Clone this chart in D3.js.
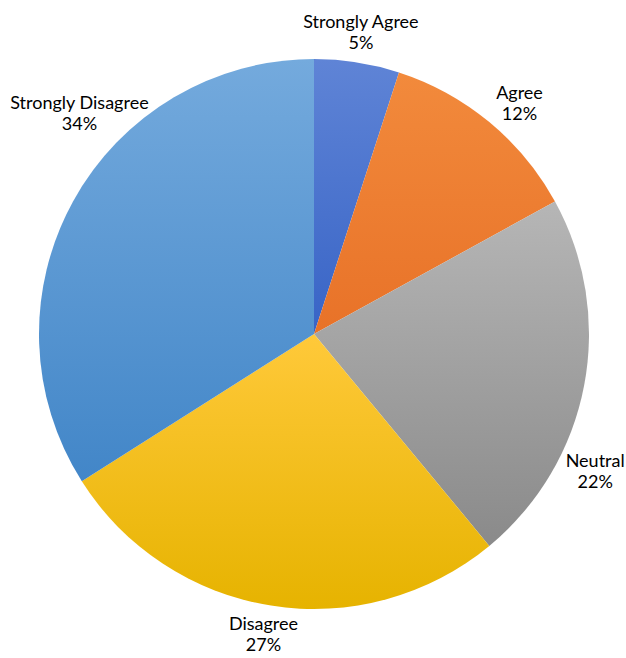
<!DOCTYPE html>
<html>
<head>
<meta charset="utf-8">
<script src="https://cdn.jsdelivr.net/npm/d3@7/dist/d3.min.js"></script>
<style>
  html, body { margin: 0; padding: 0; background: #fff; }
  svg { display: block; }
  text { font-family: "Lato", "Open Sans", sans-serif; font-size: 18px; fill: #000; }
</style>
</head>
<body>
<svg id="chart" width="626" height="658"></svg>
<script>
// Survey response shares (percent)
const categories = ["Strongly Agree", "Agree", "Neutral", "Disagree", "Strongly Disagree"];
const values = [5, 12, 22, 27, 34];
const labels = ["5%", "12%", "22%", "27%", "34%"];

// Slice fills: top colour, bottom colour of a vertical gradient
const fillTop = ["#5f84d6", "#f28a3c", "#b6b6b6", "#ffc93a", "#74aadd"];
const fillBottom = ["#3864c6", "#e87228", "#8a8a8a", "#e6b300", "#4286c8"];

// Label placement (first baseline): angle in degrees clockwise from 12 o'clock, distance from centre
const labelAngle = [8.7, 41.2, 115.3, 189.7, 313.8];
const labelRadius = [310, 312, 311, 300, 325];

const svg = d3.select("#chart");
const cx = 314, cy = 334, radius = 275;

const defs = svg.append("defs");
categories.forEach((c, i) => {
  const g = defs.append("linearGradient")
    .attr("id", "grad" + i)
    .attr("x1", 0).attr("y1", 0).attr("x2", 0).attr("y2", 1);
  g.append("stop").attr("offset", "0%").attr("stop-color", fillTop[i]);
  g.append("stop").attr("offset", "100%").attr("stop-color", fillBottom[i]);
});

const pie = d3.pie().value(d => d).sort(null);
const arc = d3.arc().innerRadius(0).outerRadius(radius);
const arcs = pie(values);

const g = svg.append("g").attr("transform", `translate(${cx},${cy})`);

g.selectAll("path.slice")
  .data(arcs)
  .join("path")
  .attr("class", "slice")
  .attr("d", arc)
  .attr("fill", (d, i) => `url(#grad${i})`);

const lab = g.selectAll("text.label")
  .data(arcs)
  .join("text")
  .attr("class", "label")
  .attr("text-anchor", "middle")
  .attr("transform", (d, i) => {
    const a = labelAngle[i] * Math.PI / 180;
    const r = labelRadius[i];
    return `translate(${r * Math.sin(a)},${-r * Math.cos(a)})`;
  });

lab.append("tspan").attr("x", 0).attr("y", 0).text((d, i) => categories[i]);
lab.append("tspan").attr("x", 0).attr("y", 21).text((d, i) => labels[i]);
</script>
</body>
</html>
